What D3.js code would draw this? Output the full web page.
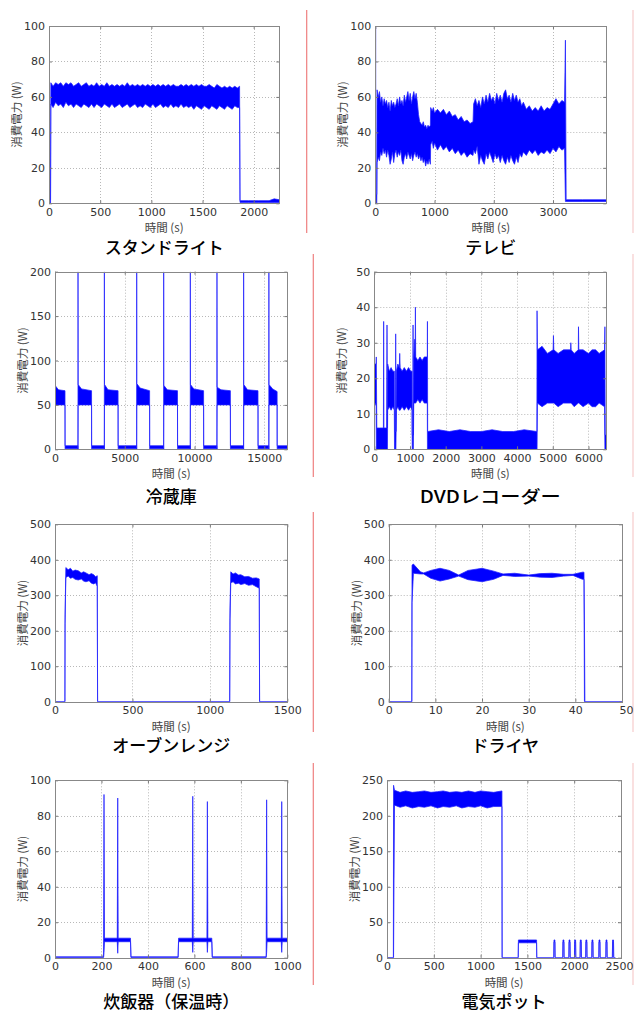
<!DOCTYPE html>
<html><head><meta charset="utf-8">
<script src="https://cdn.jsdelivr.net/npm/d3@7/dist/d3.min.js"></script>
<style>
html,body{margin:0;padding:0;background:#fff;}
svg{display:block;}
</style></head>
<body>
<svg id="c" width="634" height="1014"></svg>
<script>
// ---------- DATA (each point: [time, low, high] of the plotted power band) ----------
const titles = ["スタンドライト","テレビ","冷蔵庫","DVDレコーダー","オーブンレンジ","ドライヤ","炊飯器（保温時）","電気ポット"];
const xLabel = "時間 (s)";
const yLabel = "消費電力 (W)";

const xDomains = [[0,2250],[0,3900],[0,16650],[0,6500],[0,1500],[0,50],[0,1000],[0,2500]];
const yDomains = [[0,100],[0,100],[0,200],[0,50],[0,500],[0,500],[0,100],[0,250]];
const xTickVals = [
  [0,500,1000,1500,2000],
  [0,1000,2000,3000],
  [0,5000,10000,15000],
  [0,1000,2000,3000,4000,5000,6000],
  [0,500,1000,1500],
  [0,10,20,30,40,50],
  [0,200,400,600,800,1000],
  [0,500,1000,1500,2000,2500]
];
const yTickVals = [
  [0,20,40,60,80,100],
  [0,20,40,60,80,100],
  [0,50,100,150,200],
  [0,10,20,30,40,50],
  [0,100,200,300,400,500],
  [0,100,200,300,400,500],
  [0,20,40,60,80,100],
  [0,50,100,150,200,250]
];

const standLight = [[0,0,0],[3,0,100],[8,0,2],[15,0,2],[18,56,68],[40,54,66],[65,57,68],[90,55,67],[115,56,68],[140,54,66],
 [165,57,68],[190,55,67],[215,56,68],[240,54,66],[265,56,67],[290,55,68],[315,54,66],[340,56,67],[365,55,68],[390,54,66],
 [415,56,67],[440,54,66],[465,56,68],[490,55,66],[515,54,67],[540,56,66],[565,55,68],[590,54,66],[615,56,67],[640,54,66],
 [665,55,67],[690,56,66],[715,54,67],[740,55,66],[765,56,68],[790,54,66],[815,55,67],[840,56,66],[865,54,67],[890,55,66],
 [915,54,67],[940,56,66],[965,55,67],[990,54,66],[1015,56,67],[1040,54,66],[1065,55,67],[1090,56,66],[1115,54,67],[1140,55,66],
 [1165,54,67],[1190,56,66],[1215,54,67],[1240,55,66],[1265,54,66],[1290,56,67],[1315,54,66],[1340,55,67],[1365,54,66],
 [1390,55,67],[1415,53,66],[1440,55,67],[1465,54,66],[1490,53,67],[1515,55,66],[1540,54,66],[1565,53,67],[1590,55,66],
 [1615,54,65],[1640,53,67],[1665,55,66],[1690,54,65],[1715,53,66],[1740,55,65],[1765,54,66],[1790,53,65],[1815,55,66],
 [1840,54,65],[1862,54,66],[1866,0.5,1.5],[1950,0.5,1.5],[2050,0.5,1.5],[2150,0.5,1.5],[2200,0.5,2.5],[2250,0.5,2]];

const television = [[0,0,0],[5,0,100],[10,0,5],[25,0,5],[30,23,64],[50,26,60],[70,24,63],[90,29,57],[110,27,60],[130,31,55],
 [150,28,59],[170,30,56],[190,26,58],[210,30,54],[230,27,57],[250,22,52],[270,25,58],[290,29,55],[310,23,57],[330,28,54],
 [350,30,56],[370,26,59],[390,29,55],[410,27,60],[430,30,56],[450,24,58],[470,22,55],[490,26,61],[510,28,57],[530,25,60],
 [550,29,63],[570,27,58],[590,25,62],[610,28,56],[630,24,60],[650,27,63],[670,29,59],[690,26,62],[710,28,57],[730,25,50],
 [750,27,46],[770,24,45],[790,26,44],[810,23,46],[830,25,43],[850,21,44],[870,24,42],[890,22,44],[910,25,43],[930,22,44],
 [935,33,54],[960,35,52],[980,31,54],[1000,34,51],[1050,30,53],[1100,33,51],[1150,30,53],[1200,32,50],[1250,29,52],
 [1300,31,49],[1350,28,50],[1400,30,47],[1450,27,49],[1500,29,46],[1550,26,47],[1600,28,45],[1650,27,46],[1660,30,56],
 [1690,28,59],[1720,32,55],[1750,22,58],[1780,27,54],[1810,24,60],[1840,22,56],[1870,28,61],[1900,25,57],[1930,29,62],
 [1960,26,58],[1990,23,60],[2020,28,56],[2050,25,62],[2080,27,58],[2110,23,61],[2140,27,57],[2170,24,62],[2200,22,64],
 [2230,26,59],[2260,23,61],[2290,27,57],[2320,24,62],[2350,22,58],[2380,26,61],[2410,23,57],[2440,28,59],[2470,26,55],
 [2500,29,57],[2550,27,53],[2600,30,55],[2650,28,52],[2700,30,54],[2750,27,52],[2800,29,55],[2850,28,52],[2900,30,54],
 [2950,28,53],[3000,31,56],[3050,29,59],[3100,32,56],[3150,30,58],[3195,31,57],[3210,1,92],[3222,1,2],[3500,1,2],[3900,1,2]];

const refrigerator = [[0,50,72],[250,50,67],[717,50,66],[722,0.5,4],[1640,0.5,4],[1645,0,0],[1650,0,200],[1658,50,73],[1900,50,68],
 [2620,50,66],[2625,0.5,4],[3530,0.5,4],[3535,0,0],[3540,0,200],[3548,50,73],[3800,50,67],[4520,50,66],[4525,0.5,4],
 [5845,0.5,4],[5850,0,0],[5855,0,200],[5863,50,74],[6100,50,69],[6780,50,66],[6785,0.5,4],[7780,0.5,4],[7785,0,0],
 [7790,0,200],[7798,50,72],[8050,50,67],[8780,50,66],[8785,0.5,4],[9690,0.5,4],[9695,0,0],[9700,0,200],[9708,50,73],
 [9950,50,68],[10650,50,66],[10655,0.5,4],[11600,0.5,4],[11605,0,0],[11610,0,200],[11618,50,70],[11900,50,67],
 [12570,50,66],[12575,0.5,4],[13510,0.5,4],[13515,0,0],[13520,0,200],[13528,50,73],[13800,50,67],[14550,50,66],
 [14555,0.5,4],[15320,0.5,4],[15325,0,0],[15330,0,200],[15338,50,73],[15600,50,68],[15920,50,65],[15925,0.5,4],[16650,0.5,4]];

const dvdRecorder = [[0,12,24],[50,13,24],[56,0,26],[70,0,6],[150,0,6],[255,0,6],[262,0,36],[270,0,6],[345,0,6],[356,0,35],
 [368,0,6],[375,11,24],[420,12,22],[470,11,23],[520,12,22],[562,11,22],[566,0,5],[595,0,5],[599,0,32.5],[605,0,5],
 [618,11,22],[660,12,24],[700,11,23],[712,11,27],[725,11,23],[780,12,22],[840,11,23],[900,12,22],[960,11,23],[1020,12,22],
 [1058,11,22],[1062,0,4],[1080,0,4],[1086,0,35],[1095,0,4],[1105,13,26],[1133,13,31],[1145,13,26],[1152,13,40],[1160,13,26],
 [1220,14,25],[1280,13,26],[1340,14,25],[1400,13,26],[1485,13,26],[1489,0,36],[1495,0,5],[1800,0,5.5],[2100,0,5],
 [2400,0,5.5],[2700,0,5],[3000,0,5],[3300,0,5.5],[3600,0,5],[3900,0,5],[4200,0,5.5],[4555,0,5],[4560,0,39],[4570,13,28],
 [4700,12,29],[4850,13,27],[5010,13,28],[5019,13,32],[5030,13,28],[5150,12,27],[5300,13,28],[5500,13,28],[5506,13,30],
 [5515,13,28],[5600,12,27],[5715,13,28],[5721,13,34.5],[5730,13,28],[5850,12,28],[6000,13,27],[6100,12,28],[6200,12,28],
 [6300,13,27],[6450,12,28],[6461,0,34.5],[6470,0,4],[6500,0,4]];

const microwaveOven = [[0,0,0],[64,0,0],[65,220,245],[70,350,378],[85,354,372],[100,348,376],[115,350,368],[130,345,371],
 [150,343,369],[170,346,363],[185,340,366],[200,338,363],[220,341,358],[235,334,361],[250,332,358],[262,335,352],
 [273,325,355],[275,0,0],[1128,0,0],[1130,230,258],[1135,335,366],[1150,338,360],[1165,332,363],[1185,334,357],
 [1200,330,358],[1225,333,352],[1250,328,353],[1275,330,348],[1300,324,349],[1319,320,346],[1321,0,0],[1500,0,0]];

const hairDryer = [[0,0,0],[4.95,0,0],[5.0,280,385],[5.3,362,388],[6.8,360,366],[7.5,360,363],[9,348,370],[11,340,376],
 [13,346,370],[15,354,357],[17,344,370],[20,338,376],[22.5,345,368],[24.5,356,360],[27,353,362],[30,354,357],[32.5,351,361],
 [35,350,362],[37.5,354,359],[39.5,356,359],[41.5,345,365],[41.85,345,365],[41.95,0,225],[42.05,0,0],[50,0,0]];

const riceCooker = [[0,0,0.5],[209,0,0.5],[211,3,92],[213,9,11],[268,9,11],[270,2.5,90],[272,9,11],[325,9,11],[327,0,0.5],
 [530,0,0.5],[532,9,11],[591,9,11],[593,3,91],[595,9,11],[654,9,11],[656,3,88],[658,9,11],[675,9,11],[677,0,0.5],
 [909,0,0.5],[911,3,89],[913,9,11],[974,9,11],[976,3,88],[978,9,11],[1000,9,11]];

const electricPot = [[0,0,0],[68,0,0],[70,0,243],[80,215,236],[140,212,233],[200,214,235],[270,211,233],[340,213,234],
 [400,212,235],[470,214,233],[540,211,234],[600,213,235],[670,212,233],[740,214,234],[800,211,233],[870,213,235],
 [940,212,233],[1000,214,235],[1070,211,234],[1140,213,233],[1228,213,235],[1230,0,0],[1402,0,0],[1404,21,25],[1598,21,25],[1600,0,0],
 [1782,0,0],[1784,22,25],[1794,22,25],[1796,0,0],[1878,0,0],[1880,22,25],[1890,22,25],[1892,0,0],
 [1943,0,0],[1945,22,25],[1955,22,25],[1957,0,0],[2003,0,0],[2005,22,25],[2015,22,25],[2017,0,0],
 [2063,0,0],[2065,22,25],[2075,22,25],[2077,0,0],[2123,0,0],[2125,22,25],[2135,22,25],[2137,0,0],
 [2188,0,0],[2190,22,25],[2200,22,25],[2202,0,0],[2263,0,0],[2265,22,25],[2275,22,25],[2277,0,0],
 [2338,0,0],[2340,22,25],[2350,22,25],[2352,0,0],[2408,0,0],[2410,22,25],[2420,22,25],[2422,0,0],[2440,0,0]];

const seriesList = [standLight, television, refrigerator, dvdRecorder, microwaveOven, hairDryer, riceCooker, electricPot];

// ---------- LAYOUT ----------
const boxes = [
  {l:49, r:279.3, t:26, b:203.3, ty:248},
  {l:375.3, r:606.3, t:26, b:203.3, ty:248},
  {l:55, r:287.3, t:271.7, b:449.3, ty:497},
  {l:374.3, r:606.3, t:271.7, b:449.3, ty:497},
  {l:55, r:287.3, t:524.3, b:701.7, ty:746},
  {l:388.7, r:622, t:524.3, b:701.7, ty:746},
  {l:55, r:287.3, t:780.3, b:957.7, ty:1002},
  {l:387, r:621, t:780.3, b:957.7, ty:1002}
];

const svg = d3.select("#c");
svg.append("rect").attr("width",634).attr("height",1014).attr("fill","#fff");

// separators
const seps = [
  {x:306.7, y1:10, y2:233, c:"#ef7f7f"},
  {x:313.3, y1:254, y2:477, c:"#ef7f7f"},
  {x:313.3, y1:512, y2:732, c:"#ef7f7f"},
  {x:313.3, y1:763, y2:985, c:"#ef7f7f"},
  {x:633, y1:10, y2:233, c:"#f6cccc"},
  {x:633, y1:254, y2:477, c:"#f6cccc"},
  {x:633, y1:512, y2:732, c:"#f6cccc"},
  {x:633, y1:763, y2:985, c:"#f6cccc"}
];
svg.selectAll("line.sep").data(seps).join("line").attr("class","sep")
  .attr("x1",d=>d.x).attr("x2",d=>d.x).attr("y1",d=>d.y1).attr("y2",d=>d.y2)
  .attr("stroke",d=>d.c).attr("stroke-width",1.2);

const numFont = "'DejaVu Sans', 'Liberation Sans', Arial, sans-serif";
const jpFont = "'Noto Sans CJK JP', 'Noto Sans', sans-serif";
const fmt = d3.format("d");

boxes.forEach((bx, i) => {
  const x = d3.scaleLinear().domain(xDomains[i]).range([bx.l, bx.r]);
  const y = d3.scaleLinear().domain(yDomains[i]).range([bx.b, bx.t]);
  const g = svg.append("g");
  const xt = xTickVals[i], yt = yTickVals[i];

  // grid
  g.selectAll("line.gx").data(xt.filter(v => v > xDomains[i][0] && v < xDomains[i][1])).join("line")
    .attr("x1",d=>Math.round(x(d))+0.5).attr("x2",d=>Math.round(x(d))+0.5).attr("y1",bx.t).attr("y2",bx.b)
    .attr("stroke","#b8b8b8").attr("stroke-width",1).attr("stroke-dasharray","1,2");
  g.selectAll("line.gy").data(yt.filter(v => v > yDomains[i][0] && v < yDomains[i][1])).join("line")
    .attr("y1",d=>Math.round(y(d))+0.5).attr("y2",d=>Math.round(y(d))+0.5).attr("x1",bx.l).attr("x2",bx.r)
    .attr("stroke","#b8b8b8").attr("stroke-width",1).attr("stroke-dasharray","1,2");

  // clip
  const cid = "clip"+i;
  svg.append("clipPath").attr("id",cid).append("rect")
    .attr("x",bx.l).attr("y",bx.t).attr("width",bx.r-bx.l).attr("height",bx.b-bx.t);
  const dg = g.append("g").attr("clip-path",`url(#${cid})`);
  const data = seriesList[i];
  const area = d3.area().x(d=>x(d[0])).y0(d=>y(d[1])).y1(d=>y(d[2]));
  const hi = d3.line().x(d=>x(d[0])).y(d=>y(d[2]));
  const lo = d3.line().x(d=>x(d[0])).y(d=>y(d[1]));
  dg.append("path").attr("d",area(data)).attr("fill","#0000ff");
  dg.append("path").attr("d",hi(data)).attr("fill","none").attr("stroke","#2020ff").attr("stroke-width",1).attr("stroke-opacity",0.75);
  dg.append("path").attr("d",lo(data)).attr("fill","none").attr("stroke","#2020ff").attr("stroke-width",1).attr("stroke-opacity",0.75);

  // axes
  const ax = g.append("g").attr("transform",`translate(0,${bx.b})`)
    .call(d3.axisBottom(x).tickValues(xt).tickFormat(fmt).tickSizeInner(-3).tickSizeOuter(0).tickPadding(4.5));
  const ay = g.append("g").attr("transform",`translate(${bx.l},0)`)
    .call(d3.axisLeft(y).tickValues(yt).tickFormat(fmt).tickSizeInner(-3).tickSizeOuter(0).tickPadding(4));
  const axt = g.append("g").attr("transform",`translate(0,${bx.t})`)
    .call(d3.axisTop(x).tickValues(xt).tickSizeInner(-3).tickSizeOuter(0).tickFormat(""));
  const ayr = g.append("g").attr("transform",`translate(${bx.r},0)`)
    .call(d3.axisRight(y).tickValues(yt).tickSizeInner(-3).tickSizeOuter(0).tickFormat(""));
  [ax, ay, axt, ayr].forEach(a => {
    a.select(".domain").remove();
    a.selectAll("line").attr("stroke","#777");
    a.selectAll("text").attr("fill","#333").style("font-family",numFont).style("font-size","11px");
  });
  // keep the last x tick label inside the picture
  ax.selectAll(".tick text").each(function(d){
    const px = x(d);
    if (px + 14 > 633) d3.select(this).attr("text-anchor","end").attr("x", 633 - px);
  });

  // frame
  g.append("rect").attr("x",Math.round(bx.l)+0.5).attr("y",Math.round(bx.t)+0.5)
    .attr("width",Math.round(bx.r)-Math.round(bx.l)).attr("height",Math.round(bx.b)-Math.round(bx.t))
    .attr("fill","none").attr("stroke","#888").attr("stroke-width",1);

  const cx = (bx.l+bx.r)/2, cy = (bx.t+bx.b)/2;
  // axis labels
  g.append("text").attr("x",cx).attr("y",bx.b+25).attr("dy","0.35em").attr("text-anchor","middle")
    .style("font-family",jpFont).style("font-size","11.5px").attr("fill","#444").text(xLabel);
  g.append("text").attr("transform",`translate(${bx.l-32},${cy}) rotate(-90)`).attr("dy","0.35em")
    .attr("text-anchor","middle").style("font-family",jpFont).style("font-size","11.5px").attr("fill","#444").text(yLabel);
  // title
  const tt = g.append("text").attr("x",cx).attr("y",bx.ty).attr("dy","0.35em").attr("text-anchor","middle")
    .style("font-family",jpFont).style("font-size","17px").style("font-weight","500").attr("fill","#000").text(titles[i]);
  if (i === 3) tt.attr("textLength",141).attr("lengthAdjust","spacingAndGlyphs");
});
</script>
</body></html>
